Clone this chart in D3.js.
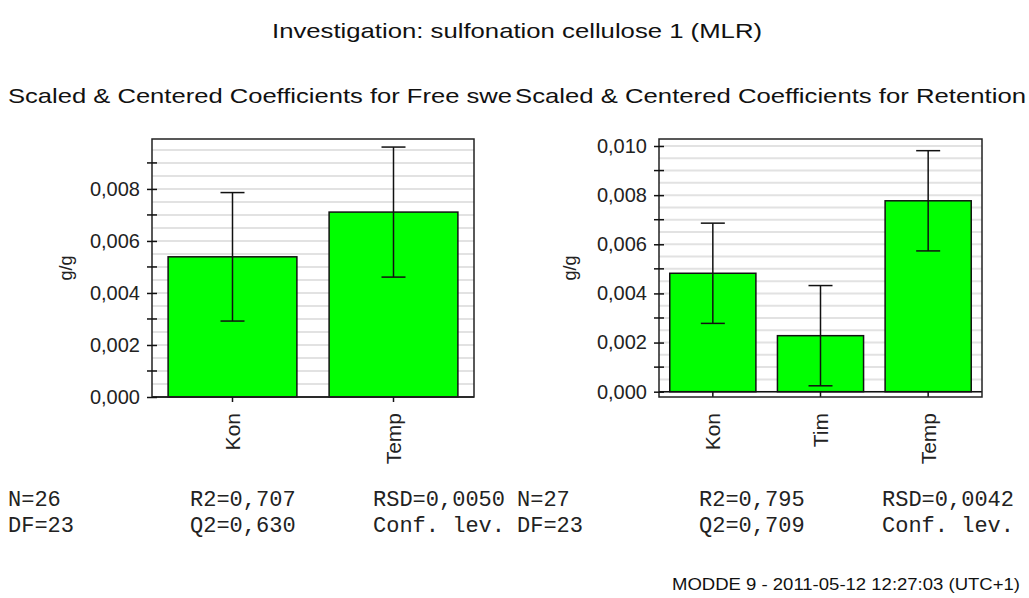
<!DOCTYPE html>
<html>
<head>
<meta charset="utf-8">
<script src="https://cdn.jsdelivr.net/npm/d3@7"></script>
<style>
  body { margin: 0; background: #fff; }
  svg { display: block; }
</style>
</head>
<body>
<svg id="vis"></svg>
<script>
// values
var leftCats = ["Kon", "Temp"];
var leftCoef = [0.00539, 0.00711];
var leftErr = [0.00247, 0.0025];
var leftStats = [["N=26", "R2=0,707", "RSD=0,0050"], ["DF=23", "Q2=0,630", "Conf. lev."]];

var rightCats = ["Kon", "Tim", "Temp"];
var rightCoef = [0.00482, 0.00228, 0.00777];
var rightErr = [0.00204, 0.00204, 0.00204];
var rightStats = [["N=27", "R2=0,795", "RSD=0,0042"], ["DF=23", "Q2=0,709", "Conf. lev."]];

// the subtitles are cut by the panel edges in the original, only the visible part is kept
var titleText = "Investigation: sulfonation cellulose 1 (MLR)";
var leftSub = "Scaled & Centered Coefficients for Free swe";
var rightSub = "Scaled & Centered Coefficients for Retention";
var footer = "MODDE 9 - 2011-05-12 12:27:03 (UTC+1)";

const WIDTH = 1029;
const HEIGHT = 598;
const SANS = "'Liberation Sans', Arial, sans-serif";
const fmt = function(v) { return d3.format(".3f")(v).replace(".", ","); };

let svg = d3.select("#vis")
    .attr("width", WIDTH)
    .attr("height", HEIGHT)
    .style("font-family", SANS);

svg.append("text")
    .attr("x", 517).attr("y", 38)
    .attr("text-anchor", "middle")
    .attr("font-size", "21px")
    .attr("textLength", 490)
    .attr("lengthAdjust", "spacingAndGlyphs")
    .attr("fill", "#111")
    .text(titleText);

function drawPanel(opt) {
    let g = svg.append("g");

    g.append("text")
        .attr("x", opt.subX).attr("y", 103)
        .attr("font-size", "21px")
        .attr("textLength", opt.subW)
        .attr("lengthAdjust", "spacingAndGlyphs")
        .attr("fill", "#111")
        .text(opt.sub);

    let x = d3.scaleBand()
        .domain(opt.cats)
        .range([opt.x0, opt.x1])
        .paddingInner(0.2)
        .paddingOuter(0.1);

    let y = d3.scaleLinear()
        .domain(opt.yDomain)
        .range([397, 139]);

    // light grid lines every 0.0005
    let grid = d3.range(0, opt.yDomain[1], 0.0005);
    g.selectAll(".grid")
        .data(grid)
        .enter()
        .append("line")
        .attr("x1", opt.x0).attr("x2", opt.x1)
        .attr("y1", function(d) { return y(d); })
        .attr("y2", function(d) { return y(d); })
        .attr("stroke", "#e2e2e2")
        .attr("stroke-width", 2);

    // bars
    g.selectAll(".bar")
        .data(opt.coef)
        .enter()
        .append("rect")
        .attr("x", function(d, i) { return x(opt.cats[i]); })
        .attr("width", x.bandwidth())
        .attr("y", function(d) { return y(d); })
        .attr("height", function(d) { return y(0) - y(d); })
        .style("fill", "#00ff00")
        .style("stroke", "#111")
        .style("stroke-width", 1.5);

    // zero line
    g.append("line")
        .attr("x1", opt.x0).attr("x2", opt.x1)
        .attr("y1", y(0)).attr("y2", y(0))
        .attr("stroke", "#111").attr("stroke-width", 1.5);

    // error bars
    let cx = function(i) { return x(opt.cats[i]) + x.bandwidth() / 2; };
    opt.coef.forEach(function(d, i) {
        let lo = y(d - opt.err[i]);
        let hi = y(d + opt.err[i]);
        g.append("line").attr("x1", cx(i)).attr("x2", cx(i)).attr("y1", lo).attr("y2", hi)
            .attr("stroke", "#111").attr("stroke-width", 1.5);
        g.append("line").attr("x1", cx(i) - 12).attr("x2", cx(i) + 12).attr("y1", lo).attr("y2", lo)
            .attr("stroke", "#111").attr("stroke-width", 1.5);
        g.append("line").attr("x1", cx(i) - 12).attr("x2", cx(i) + 12).attr("y1", hi).attr("y2", hi)
            .attr("stroke", "#111").attr("stroke-width", 1.5);
    });

    // frame
    g.append("rect")
        .attr("x", opt.x0).attr("y", 139)
        .attr("width", opt.x1 - opt.x0).attr("height", 258)
        .attr("fill", "none")
        .attr("stroke", "#222").attr("stroke-width", 1.5);

    // y axis: major ticks with labels, minor ticks between
    let yAxis = d3.axisLeft(y)
        .tickValues(d3.range(0, opt.yDomain[1] + 1e-9, 0.002))
        .tickFormat(fmt)
        .tickSizeInner(5)
        .tickSizeOuter(0)
        .tickPadding(7);
    let ya = g.append("g").attr("transform", "translate(" + opt.x0 + ",0)").call(yAxis);
    ya.select(".domain").remove();
    ya.selectAll(".tick line").attr("x2", 5).attr("x1", -5).attr("stroke", "#111").attr("stroke-width", 1.5);
    ya.selectAll("text").attr("font-size", "20px").attr("font-family", SANS).attr("fill", "#222");

    let minor = d3.range(0.001, opt.yDomain[1], 0.002);
    g.selectAll(".minor")
        .data(minor)
        .enter()
        .append("line")
        .attr("x1", opt.x0 - 5).attr("x2", opt.x0 + 5)
        .attr("y1", function(d) { return y(d); })
        .attr("y2", function(d) { return y(d); })
        .attr("stroke", "#111").attr("stroke-width", 1.5);

    // x axis
    let xAxis = d3.axisBottom(x).tickSizeInner(5).tickSizeOuter(0).tickPadding(6);
    let xa = g.append("g").attr("transform", "translate(0," + y(0) + ")").call(xAxis);
    xa.select(".domain").remove();
    xa.selectAll(".tick line").attr("stroke", "#111").attr("stroke-width", 1.5);
    xa.selectAll("text")
        .attr("font-size", "21px")
        .attr("font-family", SANS)
        .attr("fill", "#222")
        .style("text-anchor", "end")
        .attr("dy", "0.35em")
        .attr("transform", "rotate(-90)")
        .attr("x", -(397 - y(0)) - 16)
        .attr("y", 0);

    // y label
    g.append("text")
        .attr("transform", "translate(" + opt.labX + ",268) rotate(-90)")
        .attr("text-anchor", "middle")
        .attr("font-size", "18px")
        .attr("fill", "#222")
        .text("g/g");

    // statistics block
    let cols = [0, 182, 365];
    opt.stats.forEach(function(row, r) {
        row.forEach(function(s, c) {
            g.append("text")
                .attr("x", opt.statX + cols[c])
                .attr("y", 506 + r * 26)
                .attr("font-family", "'Liberation Mono', 'Courier New', monospace")
                .attr("font-size", "22px")
                .attr("fill", "#222")
                .text(s);
        });
    });
}

drawPanel({
    sub: leftSub, subX: 8, subW: 504,
    cats: leftCats, coef: leftCoef, err: leftErr, stats: leftStats,
    x0: 152, x1: 474, yDomain: [0, 0.00992], labX: 72, statX: 8
});

drawPanel({
    sub: rightSub, subX: 515, subW: 511,
    cats: rightCats, coef: rightCoef, err: rightErr, stats: rightStats,
    x0: 659, x1: 982, yDomain: [-0.000216, 0.010285], labX: 576, statX: 517
});

svg.append("text")
    .attr("x", 1020).attr("y", 590)
    .attr("text-anchor", "end")
    .attr("font-size", "16px")
    .attr("textLength", 348)
    .attr("lengthAdjust", "spacingAndGlyphs")
    .attr("fill", "#111")
    .text(footer);
</script>
</body>
</html>
